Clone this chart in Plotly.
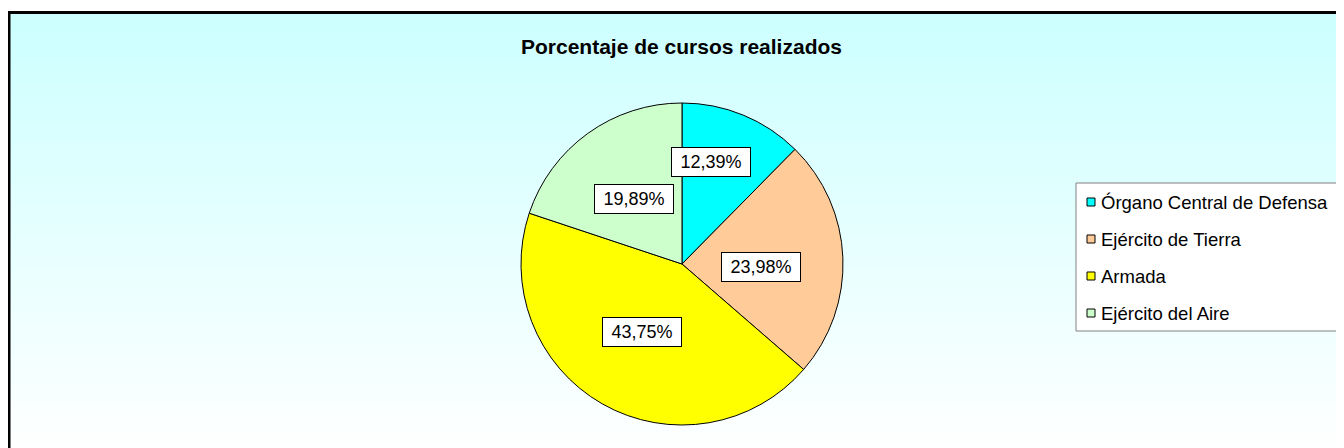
import math
import plotly.graph_objects as go

# ---- data ----
categories = ["Órgano Central de Defensa", "Ejército de Tierra", "Armada", "Ejército del Aire"]
values = [12.39, 23.98, 43.75, 19.89]
value_labels = ["12,39%", "23,98%", "43,75%", "19,89%"]
colors = ["#00FFFF", "#FFCC99", "#FFFF00", "#CCFFCC"]
title_text = "Porcentaje de cursos realizados"

# ---- layout constants (screen pixels) ----
OFF = 8  # page body margin
SW, SH = 1344, 448
W, H = SW - OFF, SH - OFF
CX, CY, R = 682, 264, 161
FONT = "Arial, Liberation Sans, sans-serif"

def px(x):
    return (x - OFF) / W

def py(y):
    return 1 - (y - OFF) / H

fig = go.Figure()

fig.add_trace(go.Pie(
    labels=categories,
    values=values,
    marker=dict(colors=colors, line=dict(color="#000000", width=1)),
    sort=False,
    direction="clockwise",
    rotation=0,
    textinfo="none",
    hoverinfo="label+percent",
    showlegend=False,
    domain=dict(x=[px(CX - R), px(CX + R)], y=[py(CY + R), py(CY - R)]),
))

shapes = []
# gradient background inside the chart frame
top, bottom = 12, 456
n = 80
c0 = (204, 255, 255)
c1 = (255, 255, 255)
for i in range(n):
    y0 = top + (bottom - top) * i / n
    y1 = top + (bottom - top) * (i + 1) / n + 0.6
    t = (i + 0.5) / n
    col = tuple(round(c0[k] + (c1[k] - c0[k]) * t) for k in range(3))
    shapes.append(dict(type="rect", xref="paper", yref="paper", layer="below",
                       x0=px(9), x1=px(SW + 20), y0=py(y1), y1=py(y0),
                       line=dict(width=0), fillcolor="rgb(%d,%d,%d)" % col))
# chart frame
shapes.append(dict(type="rect", xref="paper", yref="paper", layer="above",
                   x0=px(9), x1=px(SW + 20), y0=py(SH + 20), y1=py(12.5),
                   line=dict(color="#000000", width=3), fillcolor="rgba(0,0,0,0)"))
# legend box
LX0, LX1, LY0, LY1 = 1076, 1339, 183, 331
shapes.append(dict(type="rect", xref="paper", yref="paper", layer="above",
                   x0=px(LX0), x1=px(LX1), y0=py(LY1), y1=py(LY0),
                   line=dict(color="#808080", width=1), fillcolor="#FFFFFF"))

annotations = []
# title
annotations.append(dict(x=px(681), y=py(46), xref="paper", yref="paper",
                        text="<b>%s</b>" % title_text, showarrow=False,
                        xanchor="center", yanchor="middle",
                        font=dict(family=FONT, size=21, color="#000000")))

# legend items
item_y0, item_step = 202, 37
for i, (cat, col) in enumerate(zip(categories, colors)):
    yc = item_y0 + i * item_step
    shapes.append(dict(type="rect", xref="paper", yref="paper", layer="above",
                       x0=px(1087), x1=px(1095), y0=py(yc + 4), y1=py(yc - 4),
                       line=dict(color="#000000", width=1), fillcolor=col))
    annotations.append(dict(x=px(1099), y=py(yc), xref="paper", yref="paper",
                            text=cat, showarrow=False, xanchor="left", yanchor="middle",
                            font=dict(family=FONT, size=18.5, color="#000000")))

# data labels in white boxes
label_radius = [0.66, 0.49, 0.49, 0.50]
label_angle_shift = [-6.4, 4.2, 0.8, -0.4]
total = sum(values)
cum = 0.0
for i, v in enumerate(values):
    mid = (cum + v / 2) / total * 360 + label_angle_shift[i]
    cum += v
    a = math.radians(mid)
    lx = CX + label_radius[i] * R * math.sin(a)
    ly = CY - label_radius[i] * R * math.cos(a)
    annotations.append(dict(x=px(lx), y=py(ly), xref="paper", yref="paper",
                            text=value_labels[i], showarrow=False,
                            xanchor="center", yanchor="middle",
                            width=76, height=26, borderpad=1,
                            bgcolor="#FFFFFF", bordercolor="#000000", borderwidth=1,
                            font=dict(family=FONT, size=18, color="#000000")))

fig.update_layout(
    width=W, height=H,
    margin=dict(l=0, r=0, t=0, b=0),
    paper_bgcolor="#FFFFFF",
    plot_bgcolor="#FFFFFF",
    shapes=shapes,
    annotations=annotations,
    showlegend=False,
)

fig.write_html("out.html")
